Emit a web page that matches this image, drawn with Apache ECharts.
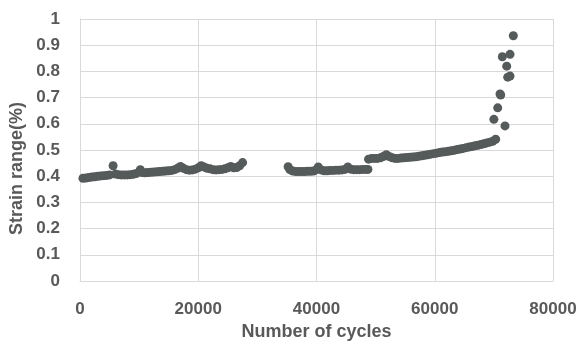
<!DOCTYPE html>
<html>
<head>
<meta charset="utf-8">
<script src="https://cdn.jsdelivr.net/npm/echarts@6/dist/echarts.min.js"></script>
<style>html,body{margin:0;padding:0;background:#fff}#c{width:581px;height:347px}</style>
</head>
<body>
<div id="c"></div>
<script>
// Number of cycles (x) and strain range % (y)
const cycles = [
  500,1000,1500,2000,2500,3000,3500,4000,4500,5000,5600,6000,6500,7000,7500,8000,8500,9000,9500,10200,
  10500,11000,11500,12000,12500,13000,13500,14000,14500,15000,15500,16000,16500,17000,17500,18000,18500,19000,19500,20000,
  20500,21000,21500,22000,22500,23000,23500,24000,24500,25000,25500,26000,26500,27000,27500,
  35200,35500,36000,36500,37000,37500,38000,38500,39000,39500,40000,40300,40800,41300,41800,42300,42800,43300,43800,44300,
  44800,45300,45800,46300,46800,47300,47800,48300,48700,
  48800,49300,49800,50300,50800,51300,51800,52300,52800,53300,53800,54300,54800,55300,55800,56300,56800,57300,57800,58300,
  58800,59300,59800,60300,60800,61300,61800,62300,62800,63300,63800,64300,64800,65300,65800,66300,66800,67300,67800,68300,
  68800,69300,69800,70300,
  70000,70650,71040,71150,71430,71880,72170,72340,72730,72730,73290
];
const strain = [
  0.392,0.393,0.395,0.397,0.398,0.400,0.401,0.402,0.403,0.405,0.440,0.408,0.406,0.405,0.405,0.405,0.406,0.407,0.410,0.425,
  0.414,0.413,0.414,0.415,0.416,0.417,0.418,0.419,0.420,0.421,0.422,0.425,0.430,0.437,0.430,0.425,0.423,0.424,0.427,0.432,
  0.440,0.435,0.430,0.428,0.425,0.424,0.425,0.426,0.428,0.432,0.437,0.432,0.433,0.440,0.452,
  0.436,0.425,0.420,0.418,0.418,0.418,0.418,0.419,0.419,0.420,0.425,0.435,0.424,0.421,0.421,0.422,0.422,0.423,0.423,0.424,
  0.426,0.435,0.427,0.425,0.425,0.425,0.426,0.426,0.426,
  0.465,0.468,0.468,0.468,0.470,0.475,0.482,0.475,0.470,0.468,0.468,0.469,0.470,0.471,0.472,0.473,0.474,0.476,0.478,0.480,
  0.482,0.484,0.486,0.488,0.490,0.492,0.493,0.495,0.497,0.499,0.502,0.504,0.506,0.509,0.511,0.513,0.516,0.518,0.521,0.524,
  0.527,0.530,0.533,0.541,
  0.617,0.661,0.714,0.710,0.856,0.592,0.820,0.778,0.782,0.865,0.936
];
const xTicks = [0, 20000, 40000, 60000, 80000];
const yTicks = [0, 0.1, 0.2, 0.3, 0.4, 0.5, 0.6, 0.7, 0.8, 0.9, 1];

const gray = '#595959';
const font = 'Liberation Sans';
const chart = echarts.init(document.getElementById('c'));
chart.setOption({
  animation: false,
  grid: { left: 80, right: 28, top: 19, bottom: 66 },
  xAxis: {
    type: 'value', min: xTicks[0], max: xTicks[xTicks.length - 1], interval: 20000,
    name: 'Number of cycles', nameLocation: 'middle', nameGap: 40,
    nameTextStyle: { color: gray, fontSize: 18, fontWeight: 'bold', fontFamily: font },
    axisLine: { show: true, lineStyle: { color: '#d9d9d9', width: 1 } },
    axisTick: { show: false },
    axisLabel: { color: gray, fontSize: 17, fontWeight: 'bold', fontFamily: font, margin: 20,
      formatter: v => String(v) },
    splitLine: { show: true, lineStyle: { color: '#d9d9d9', width: 1 } }
  },
  yAxis: {
    type: 'value', min: yTicks[0], max: yTicks[yTicks.length - 1], interval: 0.1,
    axisLine: { show: true, lineStyle: { color: '#d9d9d9', width: 1 } },
    axisTick: { show: false },
    axisLabel: { color: gray, fontSize: 17, fontWeight: 'bold', fontFamily: font, margin: 20,
      formatter: v => String(Math.round(v * 10) / 10) },
    splitLine: { show: true, lineStyle: { color: '#d9d9d9', width: 1 } }
  },
  graphic: [{
    type: 'text', left: 8, top: 102, rotation: Math.PI / 2,
    style: { text: 'Strain range(%)', fill: gray, fontSize: 18, fontWeight: 'bold', fontFamily: font }
  }],
  series: [{
    type: 'scatter', symbolSize: 9,
    itemStyle: { color: '#555a5a', opacity: 1 },
    data: cycles.map((c, i) => [c, strain[i]])
  }]
});
</script>
</body>
</html>
